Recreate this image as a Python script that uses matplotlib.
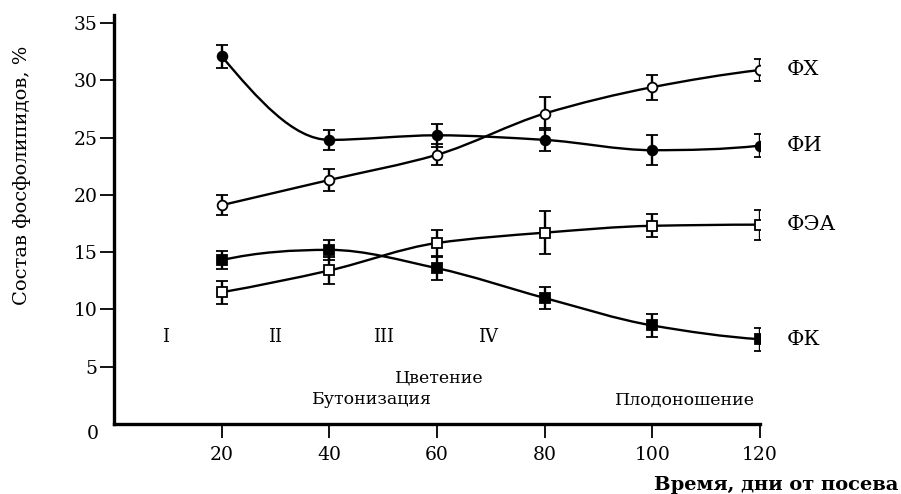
import matplotlib
matplotlib.use('Agg')
import matplotlib.pyplot as plt
from matplotlib.path import Path
from matplotlib.patches import PathPatch
import numpy as np

# days after sowing
days = [20, 40, 60, 80, 100, 120]

# phospholipid composition, %
fi = [32.1, 24.8, 25.2, 24.8, 23.9, 24.3]      # ФИ
fi_err = [1.0, 0.9, 1.0, 1.0, 1.3, 1.0]
fh = [19.1, 21.3, 23.5, 27.1, 29.4, 30.9]      # ФХ
fh_err = [0.9, 1.0, 0.9, 1.4, 1.1, 1.0]
fea = [11.5, 13.4, 15.8, 16.7, 17.3, 17.4]     # ФЭА
fea_err = [1.0, 1.2, 1.1, 1.9, 1.0, 1.3]
fk = [14.3, 15.2, 13.6, 11.0, 8.6, 7.4]        # ФК
fk_err = [0.8, 0.9, 1.0, 1.0, 1.0, 1.0]

stages = ['I', 'II', 'III', 'IV']
stage_x = [9.5, 30, 50, 69.5]
phases = ['Цветение', 'Бутонизация', 'Плодоношение']
phase_x = [60.5, 48, 106]
phase_y = [4.0, 2.1, 2.1]

plt.rcParams['font.family'] = ['DejaVu Serif']

fig = plt.figure(figsize=(9.01, 4.94), dpi=100)
ax = fig.add_axes([114 / 901, 1 - 424 / 494, (760 - 114) / 901, (424 - 15) / 494])


def smooth_path(xs, ys):
    # monotone cubic (fritsch-carlson) through the points, as bezier segments
    x = np.asarray(xs, float)
    y = np.asarray(ys, float)
    h = np.diff(x)
    d = np.diff(y) / h
    n = len(x)
    m = np.zeros(n)
    for k in range(1, n - 1):
        if d[k - 1] * d[k] > 0:
            w1 = 2 * h[k] + h[k - 1]
            w2 = h[k] + 2 * h[k - 1]
            m[k] = (w1 + w2) / (w1 / d[k - 1] + w2 / d[k])
    for k, (a, b, ha, hb) in [(0, (d[0], d[1], h[0], h[1])), (n - 1, (d[-1], d[-2], h[-1], h[-2]))]:
        e = ((2 * ha + hb) * a - ha * b) / (ha + hb)
        if np.sign(e) != np.sign(a):
            e = 0.0
        elif np.sign(a) != np.sign(b) and abs(e) > 3 * abs(a):
            e = 3 * a
        m[k] = e
    verts = [(x[0], y[0])]
    codes = [Path.MOVETO]
    for i in range(n - 1):
        verts += [(x[i] + h[i] / 3, y[i] + m[i] * h[i] / 3),
                  (x[i + 1] - h[i] / 3, y[i + 1] - m[i + 1] * h[i] / 3),
                  (x[i + 1], y[i + 1])]
        codes += [Path.CURVE4] * 3
    return Path(verts, codes)


series = [
    (fh, fh_err, 'o', 'white', 'ФХ'),
    (fi, fi_err, 'o', 'black', 'ФИ'),
    (fea, fea_err, 's', 'white', 'ФЭА'),
    (fk, fk_err, 's', 'black', 'ФК'),
]

for vals, errs, mk, fc, name in series:
    ax.add_patch(PathPatch(smooth_path(days, vals), facecolor='none',
                           edgecolor='black', lw=1.7, zorder=2))
    ax.errorbar(days, vals, yerr=errs, fmt=mk, color='black', mfc=fc, mec='black',
                ms=7, mew=1.3, elinewidth=1.7, capsize=4.5,
                capthick=1.7, zorder=3)
    ax.text(125, vals[-1], name, fontsize=15, va='center', ha='left', clip_on=False)

for s, x in zip(stages, stage_x):
    ax.text(x, 7.6, s, fontsize=13, ha='center', va='center')

for p, x, y in zip(phases, phase_x, phase_y):
    ax.text(x, y, p, fontsize=12.5, ha='center', va='center')

ax.set_xlim(0, 120)
ax.set_ylim(0, 35.7)
ax.set_xticks(days)
ax.set_yticks([5, 10, 15, 20, 25, 30, 35])
ax.tick_params(axis='both', labelsize=13.5, width=1.3, length=10, direction='out')
ax.tick_params(axis='x', pad=6)
ax.tick_params(axis='y', pad=2)
ax.text(-3.9, -0.9, '0', fontsize=13.5, ha='center', va='center', clip_on=False)

for side in ['top', 'right']:
    ax.spines[side].set_visible(False)
ax.spines['left'].set_linewidth(2.4)
ax.spines['bottom'].set_linewidth(2.4)

fig.text(22 / 901, 1 - 175 / 494, 'Состав фосфолипидов, %', fontsize=14,
         rotation=90, ha='center', va='center')
fig.text(898 / 901, 1 - 485 / 494, 'Время, дни от посева', fontsize=14,
         fontweight='bold', ha='right', va='center')

fig.savefig('out.png', dpi=100)
